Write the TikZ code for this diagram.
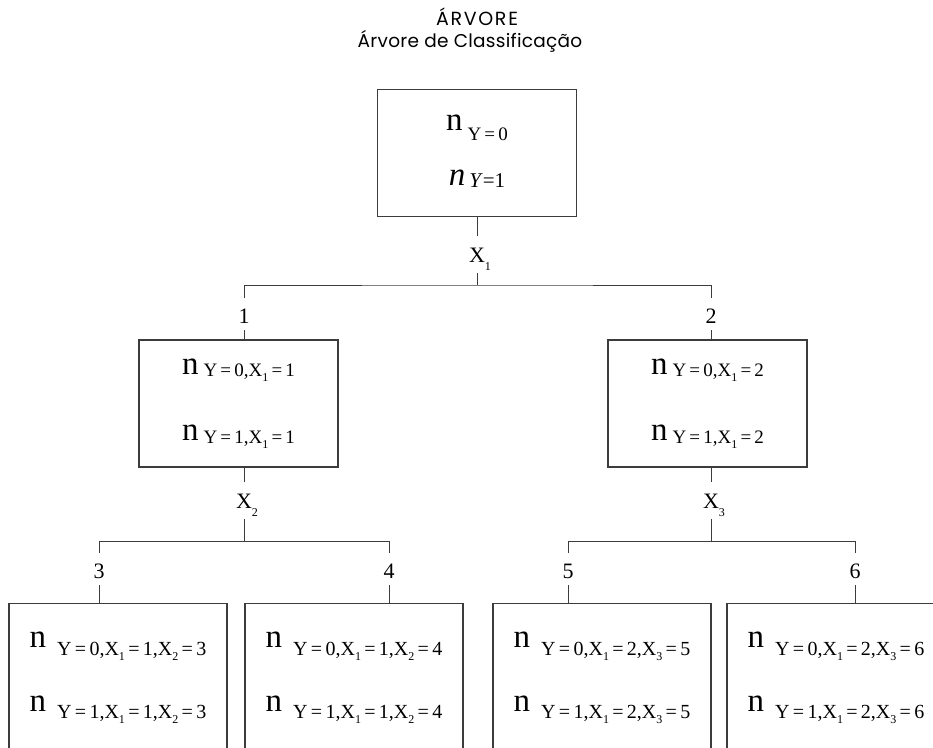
\documentclass[tikz,border=0pt]{standalone}
\usepackage{fontspec}
\setmainfont{Liberation Serif}
\newfontfamily\titlefont[LetterSpace=1.5]{Poppins}
\newfontfamily\titlecaps[LetterSpace=9]{Poppins}
\usetikzlibrary{positioning}
\definecolor{cLine}{HTML}{3C3C3C}
% counts n, with a lowered index
\newcommand{\nlab}[2][-6pt]{{\fontsize{33}{33}\selectfont n}\hspace{5pt}%
  \raisebox{#1}{\fontsize{19}{19}\selectfont #2}}
\newcommand{\nleaf}[2][-8pt]{{\fontsize{33}{33}\selectfont n}\hspace{11pt}%
  \raisebox{#1}{\fontsize{20}{20}\selectfont #2}}
\newcommand{\xsub}[2]{X\raisebox{-5pt}{\fontsize{12}{12}\selectfont #1}\,=\,#2}
\newcommand{\xlab}[1]{X\rlap{\raisebox{-8pt}{\fontsize{12}{12}\selectfont #1}}}
\tikzset{
  tbox/.style  ={draw=cLine,line width=1.2pt,inner sep=0pt,align=center,
                 font=\fontsize{33}{33}\selectfont,minimum width=199pt,minimum height=127pt},
  leaf/.style  ={tbox,minimum width=218pt,minimum height=149pt,anchor=north},
  xlbl/.style  ={font=\fontsize{22}{22}\selectfont,inner sep=0pt,anchor=base,
                 text height=26pt,text depth=11pt},
  numlbl/.style={font=\fontsize{22}{22}\selectfont,inner sep=0pt,anchor=base,
                 text height=25pt,text depth=7pt},
  ttl/.style   ={inner sep=0pt,anchor=base},
  lnk/.style   ={draw=cLine,line width=1pt},
}

\begin{document}
\begin{tikzpicture}[x=1pt,y=-1pt]
\useasboundingbox (0,0) rectangle (933,747);
\clip (0,0) rectangle (933,747);

% ---------------- title ---------------------------------------------------
\node[ttl,font=\titlecaps\fontsize{19}{19}\selectfont] (head) at (477,25) {ÁRVORE};
\node[ttl,font=\titlefont\fontsize{18.5}{18.5}\selectfont] (subhead) at (470,47)
  {Árvore de Classificação};

% ---------------- root ----------------------------------------------------
\node[tbox] (root) at (477,153)
  {\nlab[-10pt]{Y\,=\,0}\\[22pt]{\itshape n}\hspace{4pt}%
   \raisebox{-2pt}{\fontsize{21}{21}\selectfont\textit{Y}=1}\\[-27pt]};
\node[xlbl] (x1) at (477,262) {\xlab{1}};
\coordinate (j1) at (477,285);
\draw[lnk] (root.south) -- (x1.north);
\draw[lnk] (x1.south) -- (j1);
\node[numlbl] (c1) at (244,323) {1};
\node[numlbl] (c2) at (711,323) {2};
\draw[lnk] (c1.north) |- (j1) -| (c2.north);

% ---------------- second level --------------------------------------------
\node[tbox] (mA) at (238.5,403.5)
  {\nlab[-2pt]{Y\,=\,0,\xsub{1}{1}}\\[33pt]\nlab[-3pt]{Y\,=\,1,\xsub{1}{1}}};
\node[tbox] (mB) at (707.5,403.5)
  {\nlab[-2pt]{Y\,=\,0,\xsub{1}{2}}\\[33pt]\nlab[-3pt]{Y\,=\,1,\xsub{1}{2}}};
\draw[lnk] (c1.south) -- (c1.south |- mA.north);
\draw[lnk] (c2.south) -- (c2.south |- mB.north);

\node[xlbl] (x2) at (244,508) {\xlab{2}};
\node[xlbl] (x3) at (711,508) {\xlab{3}};
\coordinate (j2) at (244,541);
\coordinate (j3) at (711,541);
\draw[lnk] (mA.south -| x2) -- (x2.north);
\draw[lnk] (mB.south -| x3) -- (x3.north);
\draw[lnk] (x2.south) -- (j2);
\draw[lnk] (x3.south) -- (j3);

\node[numlbl] (c3) at (99,578) {3};
\node[numlbl] (c4) at (389,578) {4};
\node[numlbl] (c5) at (568,578) {5};
\node[numlbl] (c6) at (855,578) {6};
\draw[lnk] (c3.north) |- (j2) -| (c4.north);
\draw[lnk] (c5.north) |- (j3) -| (c6.north);

% ---------------- leaves --------------------------------------------------
\node[leaf] (l3) at (118,603)
  {\nleaf{Y\,=\,0,\xsub{1}{1},\xsub{2}{3}}\\[31pt]\nleaf[-7pt]{Y\,=\,1,\xsub{1}{1},\xsub{2}{3}}};
\node[leaf] (l4) at (354,603)
  {\nleaf{Y\,=\,0,\xsub{1}{1},\xsub{2}{4}}\\[31pt]\nleaf[-7pt]{Y\,=\,1,\xsub{1}{1},\xsub{2}{4}}};
\node[leaf] (l5) at (602,603)
  {\nleaf{Y\,=\,0,\xsub{1}{2},\xsub{3}{5}}\\[31pt]\nleaf[-7pt]{Y\,=\,1,\xsub{1}{2},\xsub{3}{5}}};
\node[leaf] (l6) at (836,603)
  {\nleaf{Y\,=\,0,\xsub{1}{2},\xsub{3}{6}}\\[31pt]\nleaf[-7pt]{Y\,=\,1,\xsub{1}{2},\xsub{3}{6}}};
\draw[lnk] (c3.south) -- (c3.south |- l3.north);
\draw[lnk] (c4.south) -- (c4.south |- l4.north);
\draw[lnk] (c5.south) -- (c5.south |- l5.north);
\draw[lnk] (c6.south) -- (c6.south |- l6.north);
\end{tikzpicture}
\end{document}
